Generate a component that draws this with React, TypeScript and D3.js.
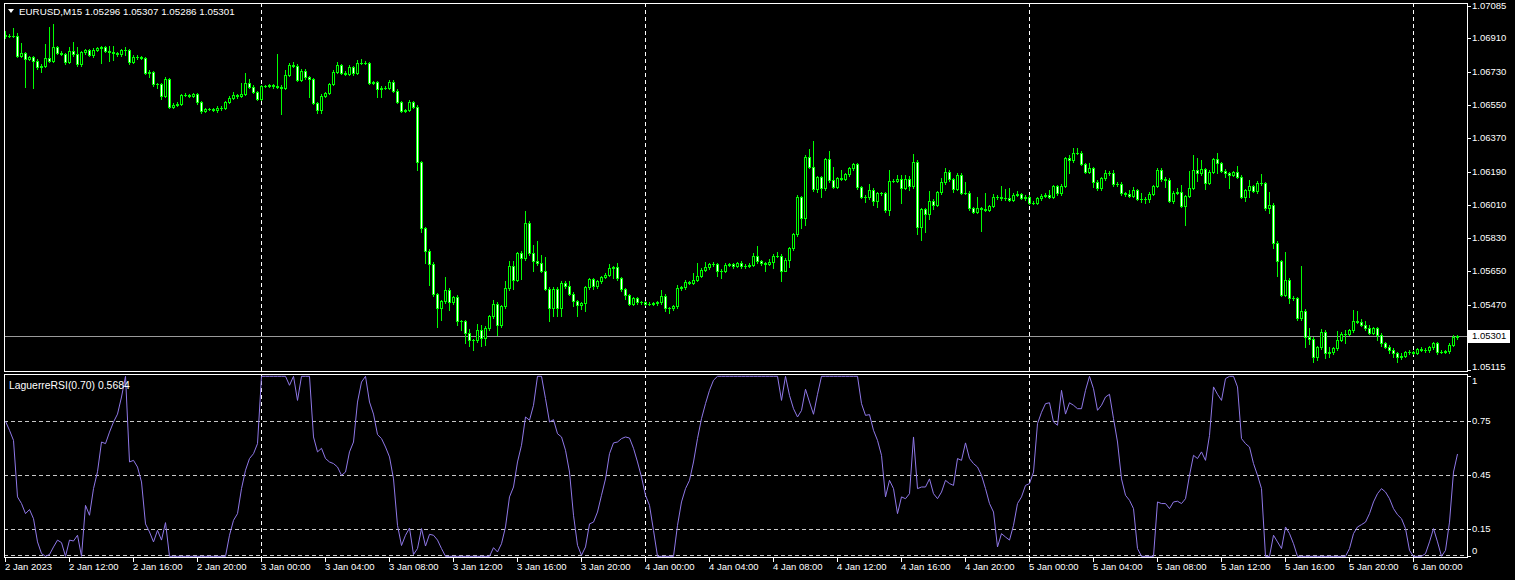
import React from 'react';
import * as d3 from 'd3';

// ---- DATA (EURUSD M15, 2 Jan 2023 08:00 -> 6 Jan 2023 02:45) ----
const symbolTitle = 'EURUSD,M15';
const lastOHLC = [1.05296, 1.05307, 1.05286, 1.05301];
const firstOpen = 1.0693;

// close prices, one per 15-minute bar (rows of 16 bars = 4 hours); open = previous close
const closes = [
  1.06925, 1.06925, 1.06923, 1.06817, 1.06833, 1.06797, 1.06809, 1.0679, 1.06757, 1.06762, 1.06802, 1.0679, 1.06865, 1.06833, 1.06824, 1.06784,
  1.06844, 1.06824, 1.0677, 1.06834, 1.06847, 1.0682, 1.06847, 1.06856, 1.06863, 1.06842, 1.06838, 1.06829, 1.06825, 1.06847, 1.06845, 1.06784,
  1.06811, 1.06807, 1.06806, 1.06725, 1.06726, 1.06663, 1.06662, 1.06599, 1.06691, 1.06541, 1.0655, 1.06556, 1.06604, 1.06604, 1.066, 1.06608,
  1.06564, 1.06519, 1.06527, 1.06527, 1.06523, 1.06532, 1.06536, 1.06565, 1.0659, 1.06604, 1.066, 1.06608, 1.06667, 1.06649, 1.06622, 1.06583,
  1.06653, 1.06654, 1.06658, 1.06652, 1.06649, 1.0664, 1.06712, 1.06766, 1.06763, 1.06685, 1.06734, 1.06703, 1.06689, 1.06559, 1.06523, 1.06599,
  1.06613, 1.06662, 1.0673, 1.06766, 1.06725, 1.06718, 1.06754, 1.06721, 1.06775, 1.06779, 1.06779, 1.06671, 1.06676, 1.06635, 1.06644, 1.06644,
  1.06676, 1.06628, 1.06565, 1.0652, 1.06523, 1.06568, 1.06541, 1.0624, 1.05884, 1.05763, 1.0569, 1.05528, 1.05452, 1.05488, 1.05551, 1.05483,
  1.05511, 1.0538, 1.0538, 1.05317, 1.05281, 1.05281, 1.05331, 1.0529, 1.05344, 1.05407, 1.05475, 1.05362, 1.05461, 1.0556, 1.05677, 1.05605,
  1.05749, 1.05722, 1.05911, 1.05749, 1.05704, 1.05695, 1.05655, 1.05556, 1.05452, 1.05556, 1.05452, 1.0559, 1.05569, 1.05529, 1.05488, 1.0547,
  1.05479, 1.05565, 1.05609, 1.05569, 1.05596, 1.0562, 1.05632, 1.05668, 1.05673, 1.05614, 1.05555, 1.05521, 1.05475, 1.05506, 1.05483, 1.05483,
  1.05475, 1.05475, 1.05479, 1.05483, 1.05518, 1.05452, 1.05452, 1.05461, 1.0556, 1.05565, 1.05592, 1.0559, 1.05605, 1.05626, 1.05659, 1.05673,
  1.05689, 1.05688, 1.0565, 1.05655, 1.05686, 1.05688, 1.0568, 1.05695, 1.05677, 1.05682, 1.05686, 1.05734, 1.05704, 1.05695, 1.05691, 1.05702,
  1.05734, 1.05736, 1.05655, 1.05713, 1.05776, 1.05851, 1.06051, 1.05941, 1.06267, 1.06217, 1.06096, 1.06159, 1.061, 1.06258, 1.06145, 1.06109,
  1.06154, 1.0615, 1.06175, 1.06208, 1.06229, 1.06105, 1.06055, 1.0605, 1.06091, 1.06031, 1.06073, 1.06073, 1.05983, 1.0614, 1.06141, 1.0615,
  1.06103, 1.0615, 1.0611, 1.06244, 1.05893, 1.05986, 1.05961, 1.06033, 1.0601, 1.06078, 1.06132, 1.0619, 1.06148, 1.06096, 1.06172, 1.06076,
  1.06076, 1.05992, 1.05974, 1.05992, 1.05988, 1.05983, 1.06004, 1.06055, 1.06051, 1.06046, 1.06046, 1.06037, 1.06064, 1.06067, 1.06049, 1.06055,
  1.06022, 1.06022, 1.06046, 1.06058, 1.06064, 1.06055, 1.0611, 1.06073, 1.06114, 1.06262, 1.0625, 1.06292, 1.06292, 1.06231, 1.0619, 1.06208,
  1.06136, 1.061, 1.06154, 1.06181, 1.06184, 1.06121, 1.06123, 1.06073, 1.06069, 1.0606, 1.0609, 1.06042, 1.06042, 1.06042, 1.06069, 1.06112,
  1.06199, 1.06148, 1.06145, 1.06033, 1.06076, 1.06082, 1.06004, 1.06058, 1.06103, 1.06199, 1.06181, 1.06202, 1.0613, 1.0619, 1.06256, 1.06235,
  1.06195, 1.06181, 1.06172, 1.06186, 1.06163, 1.06055, 1.0609, 1.06112, 1.06087, 1.06127, 1.06127, 1.05995, 1.0601, 1.05806, 1.05704, 1.05524,
  1.05605, 1.05509, 1.05505, 1.05397, 1.05437, 1.05295, 1.05287, 1.0519, 1.0524, 1.05323, 1.05208, 1.05214, 1.05235, 1.0528, 1.05313, 1.05313,
  1.05331, 1.05383, 1.05379, 1.05361, 1.05343, 1.0532, 1.05343, 1.05307, 1.05262, 1.05244, 1.05226, 1.05208, 1.05186, 1.05194, 1.05213, 1.05213,
  1.05212, 1.0523, 1.05226, 1.05223, 1.0524, 1.05262, 1.05217, 1.05217, 1.05219, 1.05253, 1.05296, 1.05301,
];

// upper shadow above the body, in points (0.00001)
const wickUp = [
  18, 8, 40, 14, 50, 6, 8, 5, 6, 8, 75, 167, 120, 6, 8, 5,
  22, 49, 41, 6, 8, 6, 10, 8, 6, 6, 27, 30, 10, 8, 14, 6,
  10, 8, 6, 6, 13, 8, 8, 6, 10, 6, 8, 8, 8, 10, 6, 8,
  6, 8, 6, 6, 8, 10, 8, 6, 10, 14, 8, 60, 54, 23, 8, 6,
  6, 6, 8, 8, 176, 8, 27, 10, 14, 6, 8, 8, 6, 8, 6, 8,
  8, 8, 8, 14, 6, 8, 10, 8, 18, 18, 8, 6, 6, 6, 8, 8,
  8, 10, 6, 8, 6, 8, 6, 8, 6, 8, 6, 10, 8, 8, 67, 8,
  8, 10, 8, 10, 22, 6, 34, 30, 10, 8, 22, 8, 8, 40, 30, 27,
  8, 10, 67, 10, 45, 113, 45, 72, 8, 8, 8, 8, 9, 27, 8, 8,
  8, 8, 8, 8, 8, 8, 8, 23, 8, 25, 8, 8, 8, 8, 8, 6,
  6, 8, 6, 8, 32, 8, 6, 10, 18, 8, 10, 8, 36, 68, 10, 27,
  8, 10, 8, 8, 8, 8, 8, 8, 13, 8, 8, 14, 56, 8, 8, 13,
  8, 20, 8, 8, 8, 8, 13, 8, 13, 45, 139, 8, 8, 8, 43, 72,
  8, 45, 10, 8, 8, 9, 8, 8, 30, 8, 8, 8, 8, 60, 8, 23,
  23, 23, 18, 41, 8, 8, 8, 54, 8, 8, 25, 18, 8, 8, 8, 8,
  60, 8, 8, 63, 8, 87, 8, 13, 8, 63, 50, 54, 8, 18, 8, 8,
  8, 8, 8, 10, 8, 27, 9, 8, 8, 8, 18, 23, 23, 8, 8, 30,
  8, 8, 8, 18, 10, 13, 8, 8, 8, 22, 14, 8, 30, 8, 8, 8,
  8, 8, 14, 8, 8, 18, 36, 8, 90, 81, 63, 50, 8, 8, 8, 36,
  8, 8, 8, 8, 34, 8, 8, 32, 8, 10, 50, 9, 72, 8, 8, 8,
  150, 8, 8, 8, 243, 8, 50, 8, 8, 16, 8, 30, 8, 50, 8, 22,
  7, 59, 54, 14, 23, 18, 8, 8, 8, 8, 8, 8, 7, 16, 8, 13,
  8, 8, 13, 13, 8, 9, 9, 8, 8, 8, 8, 6,
];

// lower shadow below the body, in points (0.00001)
const wickDn = [
  11, 6, 8, 6, 5, 148, 6, 150, 15, 30, 8, 6, 8, 6, 6, 10,
  6, 8, 8, 10, 8, 6, 8, 6, 77, 8, 50, 36, 10, 12, 25, 15,
  8, 6, 8, 10, 22, 8, 20, 15, 8, 10, 8, 8, 6, 8, 6, 8,
  8, 10, 8, 6, 8, 10, 8, 8, 6, 8, 10, 8, 6, 8, 8, 6,
  8, 8, 6, 8, 8, 140, 6, 8, 8, 8, 6, 10, 94, 6, 18, 15,
  8, 6, 6, 6, 10, 8, 6, 10, 6, 6, 6, 8, 8, 40, 40, 10,
  8, 8, 6, 10, 8, 8, 8, 40, 18, 65, 115, 8, 103, 63, 8, 40,
  8, 18, 45, 54, 32, 54, 14, 45, 40, 8, 8, 54, 10, 8, 8, 50,
  8, 112, 8, 8, 54, 8, 10, 8, 72, 45, 45, 45, 8, 8, 27, 63,
  25, 40, 8, 14, 8, 8, 6, 6, 54, 8, 8, 20, 8, 8, 8, 8,
  8, 8, 6, 8, 8, 14, 25, 8, 8, 8, 8, 8, 8, 8, 8, 8,
  8, 8, 27, 36, 8, 8, 10, 8, 8, 8, 8, 8, 8, 8, 41, 8,
  32, 8, 54, 5, 40, 8, 8, 58, 40, 8, 10, 14, 45, 8, 10, 10,
  8, 8, 8, 8, 8, 8, 8, 22, 8, 23, 32, 8, 10, 29, 8, 8,
  81, 8, 18, 8, 40, 73, 100, 27, 20, 8, 8, 8, 8, 18, 8, 8,
  8, 8, 9, 8, 120, 8, 8, 8, 8, 8, 8, 8, 8, 8, 8, 10,
  8, 8, 8, 8, 8, 8, 8, 8, 8, 8, 68, 8, 8, 8, 8, 8,
  27, 8, 8, 8, 8, 8, 8, 8, 10, 8, 8, 8, 14, 23, 14, 8,
  8, 8, 36, 8, 14, 8, 8, 103, 8, 8, 40, 8, 36, 8, 8, 54,
  8, 18, 72, 8, 8, 8, 22, 36, 8, 14, 8, 14, 27, 27, 77, 9,
  8, 30, 8, 10, 8, 54, 27, 32, 20, 8, 27, 20, 8, 8, 8, 50,
  8, 8, 8, 8, 8, 8, 8, 27, 14, 8, 18, 18, 23, 8, 8, 8,
  8, 8, 8, 8, 8, 8, 14, 8, 8, 8, 8, 10,
];

// Laguerre RSI (gamma 0.70), one value per bar
const lrsi = [
  0.75, 0.7, 0.644, 0.33, 0.293, 0.237, 0.26, 0.209, 0.08, 0.015, 0, 0.01, 0.052, 0.09, 0.076, 0,
  0.09, 0.085, 0.117, 0, 0.283, 0.228, 0.376, 0.47, 0.635, 0.626, 0.69, 0.746, 0.79, 0.885, 1, 0.524,
  0.533, 0.496, 0.413, 0.18, 0.135, 0.08, 0.144, 0.09, 0.187, 0, 0, 0, 0, 0, 0, 0,
  0, 0, 0, 0, 0, 0, 0, 0, 0.117, 0.2, 0.237, 0.376, 0.478, 0.543, 0.57, 0.626,
  1, 1, 1, 1, 1, 1, 1, 0.95, 1, 0.866, 1, 1, 1, 0.663, 0.58, 0.6,
  0.543, 0.524, 0.515, 0.496, 0.45, 0.468, 0.58, 0.635, 0.857, 0.968, 1, 0.857, 0.79, 0.676, 0.654, 0.607,
  0.552, 0.43, 0.172, 0.06, 0.117, 0.157, 0.01, 0.043, 0.154, 0.057, 0.122, 0.117, 0.09, 0.043, 0, 0,
  0, 0, 0, 0, 0, 0, 0, 0, 0, 0, 0.048, 0.024, 0.07, 0.163, 0.33, 0.385,
  0.524, 0.617, 0.774, 0.756, 0.839, 1, 1, 0.876, 0.746, 0.759, 0.681, 0.663, 0.589, 0.468, 0.228, 0.061,
  0.006, 0.052, 0.18, 0.19, 0.246, 0.339, 0.43, 0.57, 0.63, 0.635, 0.654, 0.663, 0.657, 0.6, 0.524, 0.44,
  0.339, 0.283, 0.144, 0, 0, 0, 0, 0, 0.172, 0.302, 0.376, 0.422, 0.524, 0.654, 0.765, 0.848,
  0.922, 0.978, 1, 1, 1, 1, 1, 1, 1, 1, 1, 1, 1, 1, 1, 1,
  1, 1, 0.866, 1, 0.894, 0.82, 0.774, 0.81, 0.928, 0.857, 0.789, 0.9, 1, 1, 1, 1,
  1, 1, 1, 1, 1, 1, 0.848, 0.783, 0.787, 0.7, 0.644, 0.561, 0.33, 0.422, 0.376, 0.237,
  0.33, 0.32, 0.348, 0.663, 0.376, 0.385, 0.385, 0.43, 0.348, 0.32, 0.357, 0.422, 0.404, 0.394, 0.543, 0.533,
  0.63, 0.543, 0.515, 0.496, 0.45, 0.376, 0.293, 0.246, 0.052, 0.126, 0.107, 0.09, 0.172, 0.293, 0.33, 0.394,
  0.404, 0.468, 0.737, 0.8, 0.848, 0.853, 0.746, 0.728, 0.922, 0.79, 0.853, 0.839, 0.82, 0.82, 0.922, 1,
  0.931, 0.811, 0.839, 0.885, 0.9, 0.765, 0.635, 0.43, 0.339, 0.311, 0.265, 0.043, 0, 0, 0, 0,
  0.302, 0.293, 0.293, 0.265, 0.302, 0.306, 0.293, 0.32, 0.45, 0.561, 0.543, 0.58, 0.533, 0.672, 0.941, 0.9,
  0.866, 0.987, 1, 1, 0.941, 0.654, 0.626, 0.607, 0.515, 0.45, 0.376, 0, 0, 0.117, 0.08, 0.043,
  0.163, 0.126, 0.07, 0, 0, 0, 0, 0, 0, 0, 0, 0, 0, 0, 0, 0,
  0.043, 0.126, 0.163, 0.176, 0.19, 0.237, 0.302, 0.348, 0.376, 0.357, 0.32, 0.265, 0.231, 0.209, 0.154, 0.033,
  0, 0, 0, 0.015, 0.08, 0.154, 0.08, 0, 0.033, 0.19, 0.468, 0.5684,
];

const lrsiTitle = 'LaguerreRSI(0.70)';

// time axis: one label every 16 bars (4 hours)
const timeLabels = [
  '2 Jan 2023', '2 Jan 12:00', '2 Jan 16:00', '2 Jan 20:00',
  '3 Jan 00:00', '3 Jan 04:00', '3 Jan 08:00', '3 Jan 12:00', '3 Jan 16:00', '3 Jan 20:00',
  '4 Jan 00:00', '4 Jan 04:00', '4 Jan 08:00', '4 Jan 12:00', '4 Jan 16:00', '4 Jan 20:00',
  '5 Jan 00:00', '5 Jan 04:00', '5 Jan 08:00', '5 Jan 12:00', '5 Jan 16:00', '5 Jan 20:00',
  '6 Jan 00:00',
];
const barsPerLabel = 16;

const priceTicks = [1.07085, 1.0691, 1.0673, 1.0655, 1.0637, 1.0619, 1.0601, 1.0583, 1.0565, 1.0547, 1.05115];
const priceMin = 1.05115;
const priceMax = 1.07085;
const lrsiTicks = [1, 0.75, 0.45, 0.15, 0];
const lrsiLevels = [0.75, 0.45, 0.15];

// ---- COMPONENT ----
const FONT = "'Liberation Sans', Arial, sans-serif";
const LIME = '#00ff00';
const LINE_COLOR = '#8f78e8';

export default function App() {
  React.useEffect(() => {
    document.body.style.margin = '0';
    document.body.style.background = '#000';
  }, []);

  const W = 1515;
  const H = 580;
  const left = 4;
  const right = 1467;
  const mainTop = 3;
  const mainBot = 371;
  const indTop = 374;
  const indBot = 557;

  const n = closes.length;
  const x = d3.scaleLinear().domain([0, n - 1]).range([5, 5 + 4 * (n - 1)]);
  const y = d3.scaleLinear().domain([priceMin, priceMax]).range([370.45, 6]);
  const yi = d3.scaleLinear().domain([0, 1]).range([556.3, 376.3]);

  const candles = closes.map((c, i) => {
    const o = i === 0 ? firstOpen : closes[i - 1];
    const top = Math.max(o, c);
    const bot = Math.min(o, c);
    const h = top + wickUp[i] * 1e-5;
    const l = bot - wickDn[i] * 1e-5;
    return { i, o, c, h, l };
  });

  const line = d3
    .line<number>()
    .x((_, i) => Math.round(x(i)) + 0.5)
    .y((d) => yi(d));

  const separators = timeLabels
    .map((t, k) => ({ t, bar: k * barsPerLabel }))
    .filter((d) => d.t.endsWith('00:00'));

  const lastY = Math.round(y(lastOHLC[3]));

  return (
    <svg
      width={W}
      height={H}
      style={{ position: 'absolute', left: 0, top: 0, display: 'block', background: '#000' }}
      fontFamily={FONT}
    >
      <rect x={0} y={0} width={W} height={H} fill="#000" />

      {/* period separators */}
      <g shapeRendering="crispEdges">
        {separators.map((s) => {
          const sx = Math.round(x(s.bar)) + 0.5;
          return (
            <g key={s.bar}>
              <line x1={sx} x2={sx} y1={mainTop} y2={mainBot} stroke="#ffffff" strokeDasharray="4,3" />
              <line x1={sx} x2={sx} y1={indTop} y2={indBot} stroke="#ffffff" strokeDasharray="4,3" />
            </g>
          );
        })}
        {lrsiLevels.map((v) => {
          const ly = Math.round(yi(v)) + 0.5;
          return <line key={v} x1={left} x2={right} y1={ly} y2={ly} stroke="#c8c8c8" strokeDasharray="4,3" />;
        })}
        <line x1={left} x2={right} y1={Math.round(yi(0)) - 0.5} y2={Math.round(yi(0)) - 0.5} stroke="#c8c8c8" strokeDasharray="4,3" />
      </g>

      {/* current price line */}
      <line x1={left} x2={right} y1={lastY + 0.5} y2={lastY + 0.5} stroke="#9a9a9a" shapeRendering="crispEdges" />

      {/* candles */}
      <g shapeRendering="crispEdges">
        {candles.map((d) => {
          const cx = Math.round(x(d.i));
          const yTop = Math.round(y(Math.max(d.o, d.c)));
          const yBot = Math.round(y(Math.min(d.o, d.c)));
          const yH = Math.round(y(d.h));
          const yL = Math.round(y(d.l));
          const bull = d.c > d.o;
          return (
            <g key={d.i}>
              <line x1={cx + 0.5} x2={cx + 0.5} y1={Math.min(yH, yTop)} y2={Math.max(yL, yBot) + 1} stroke={LIME} />
              {yBot - yTop < 1 ? (
                <line x1={cx - 1} x2={cx + 2} y1={yTop + 0.5} y2={yTop + 0.5} stroke={LIME} />
              ) : (
                <rect
                  x={cx - 0.5}
                  y={yTop + 0.5}
                  width={2}
                  height={yBot - yTop}
                  fill={bull ? '#000' : '#fff'}
                  stroke={LIME}
                />
              )}
            </g>
          );
        })}
      </g>

      {/* indicator line */}
      <path d={line(lrsi) || ''} fill="none" stroke={LINE_COLOR} strokeWidth={1} />

      {/* frames */}
      <g shapeRendering="crispEdges" fill="none" stroke="#ffffff">
        <rect x={left + 0.5} y={mainTop + 0.5} width={right - left} height={mainBot - mainTop} />
        <rect x={left + 0.5} y={indTop + 0.5} width={right - left} height={indBot - indTop} />
      </g>

      {/* price axis */}
      <g fontSize={9.5} fill="#fff">
        {priceTicks.map((p) => {
          const ty = Math.round(y(p));
          return (
            <g key={p}>
              <line x1={right + 1} x2={right + 4} y1={ty + 0.5} y2={ty + 0.5} stroke="#fff" shapeRendering="crispEdges" />
              <text x={right + 5} y={Math.min(ty, 367)} dy="0.35em">
                {p.toFixed(5)}
              </text>
            </g>
          );
        })}
        <rect x={right + 1} y={lastY - 6} width={42} height={13} fill="#fff" />
        <text x={right + 5} y={lastY} dy="0.35em" fill="#000">
          {lastOHLC[3].toFixed(5)}
        </text>
      </g>

      {/* indicator axis */}
      <g fontSize={9.5} fill="#fff">
        {lrsiTicks.map((v) => {
          const ty = Math.round(yi(v));
          return (
            <g key={v}>
              <line x1={right + 1} x2={right + 4} y1={ty + 0.5} y2={ty + 0.5} stroke="#fff" shapeRendering="crispEdges" />
              <text x={right + 5} y={Math.max(Math.min(ty, 551), 381)} dy="0.35em">
                {String(v)}
              </text>
            </g>
          );
        })}
      </g>

      {/* time axis */}
      <g fontSize={9.5} fill="#fff">
        {timeLabels.map((t, k) => {
          const tx = Math.round(x(k * barsPerLabel));
          return (
            <g key={t}>
              <line x1={tx + 0.5} x2={tx + 0.5} y1={indBot + 1} y2={indBot + 5} stroke="#fff" shapeRendering="crispEdges" />
              <text x={tx} y={570}>
                {t}
              </text>
            </g>
          );
        })}
      </g>

      {/* titles */}
      <path d="M8,9 L14,9 L11,13 Z" fill="#fff" />
      <text x={19} y={15} fontSize={9.8} fill="#fff">
        {symbolTitle + '  ' + lastOHLC.map((v) => v.toFixed(5)).join(' ')}
      </text>
      <text x={9} y={389} fontSize={10.4} fill="#fff">
        {lrsiTitle + ' ' + lrsi[lrsi.length - 1].toFixed(4)}
      </text>
    </svg>
  );
}
